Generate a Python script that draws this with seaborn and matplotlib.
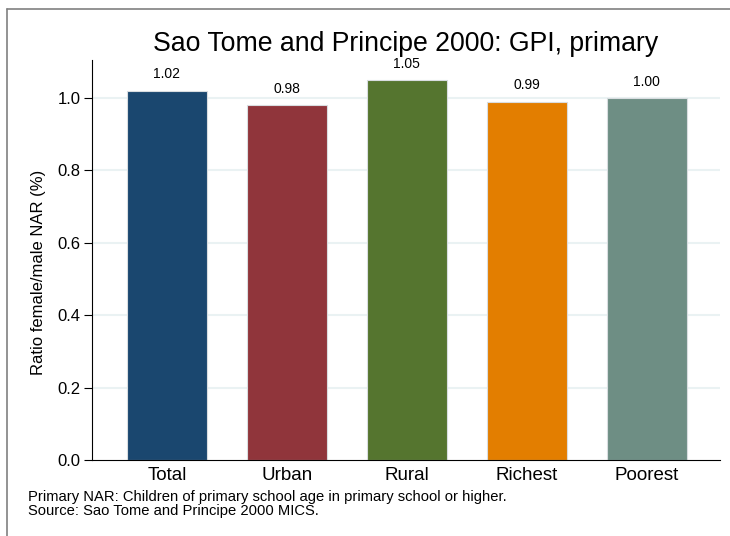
import numpy as np
import pandas as pd
import matplotlib
matplotlib.use("Agg")
import matplotlib.pyplot as plt
import seaborn as sns
from matplotlib.lines import Line2D

# data
groups = ["Total", "Urban", "Rural", "Richest", "Poorest"]
gpi = [1.02, 0.98, 1.05, 0.99, 1.00]
bar_colors = ["#1a476f", "#90353b", "#55752f", "#e37e00", "#6e8e84"]
yticks = [0.0, 0.2, 0.4, 0.6, 0.8, 1.0]

df = pd.DataFrame({"group": groups, "gpi": gpi})

sns.set_style("white")
plt.rcParams["font.family"] = ["Liberation Sans", "DejaVu Sans"]
plt.rcParams["text.color"] = "black"
plt.rcParams["axes.labelcolor"] = "black"
plt.rcParams["xtick.color"] = "black"
plt.rcParams["ytick.color"] = "black"

fig = plt.figure(figsize=(7.3, 5.36), dpi=100)
ax = fig.add_axes([0.126, 0.142, 0.860, 0.746])

for y in yticks[1:]:
    ax.axhline(y, color="#eaf2f3", lw=1.5, zorder=0)

sns.barplot(data=df, x="group", y="gpi", hue="group", palette=bar_colors,
            saturation=1, width=0.667, edgecolor="#d9dde0", linewidth=0.8,
            legend=False, ax=ax, zorder=2)

for i, v in enumerate(gpi):
    ax.text(i, v + 0.026, f"{v:.2f}", ha="center", va="bottom", fontsize=10)

ax.set_xlim(-0.625, 4.61)
ax.set_ylim(0, 1.105)
ax.set_yticks(yticks)
ax.set_yticklabels([f"{t:.1f}" for t in yticks])
ax.set_xlabel("")
ax.set_ylabel("Ratio female/male NAR (%)", fontsize=12)
ax.yaxis.set_label_coords(-0.074, 0.47)
ax.tick_params(axis="y", length=6, width=0.8, labelsize=12, left=True, pad=2)
ax.tick_params(axis="x", length=0, labelsize=13.5, pad=5)

for s in ["top", "right"]:
    ax.spines[s].set_visible(False)
ax.spines["left"].set_color("black")
ax.spines["left"].set_linewidth(0.8)
ax.spines["bottom"].set_color("black")
ax.spines["bottom"].set_linewidth(0.8)

ax.set_title("Sao Tome and Principe 2000: GPI, primary", fontsize=19.2, pad=6.5)

fig.text(28 / 730, 1 - 497 / 536,
         "Primary NAR: Children of primary school age in primary school or higher.",
         fontsize=10.6, va="center")
fig.text(28 / 730, 1 - 511 / 536, "Source: Sao Tome and Principe 2000 MICS.",
         fontsize=10.6, va="center")

# outer frame (top and left only visible)
fig.add_artist(Line2D([7 / 730, 1], [1 - 9 / 536, 1 - 9 / 536], color="#808080", lw=1.2,
                      transform=fig.transFigure))
fig.add_artist(Line2D([7 / 730, 7 / 730], [0, 1 - 9 / 536], color="#808080", lw=1.2,
                      transform=fig.transFigure))

fig.savefig("out.png", dpi=100)
